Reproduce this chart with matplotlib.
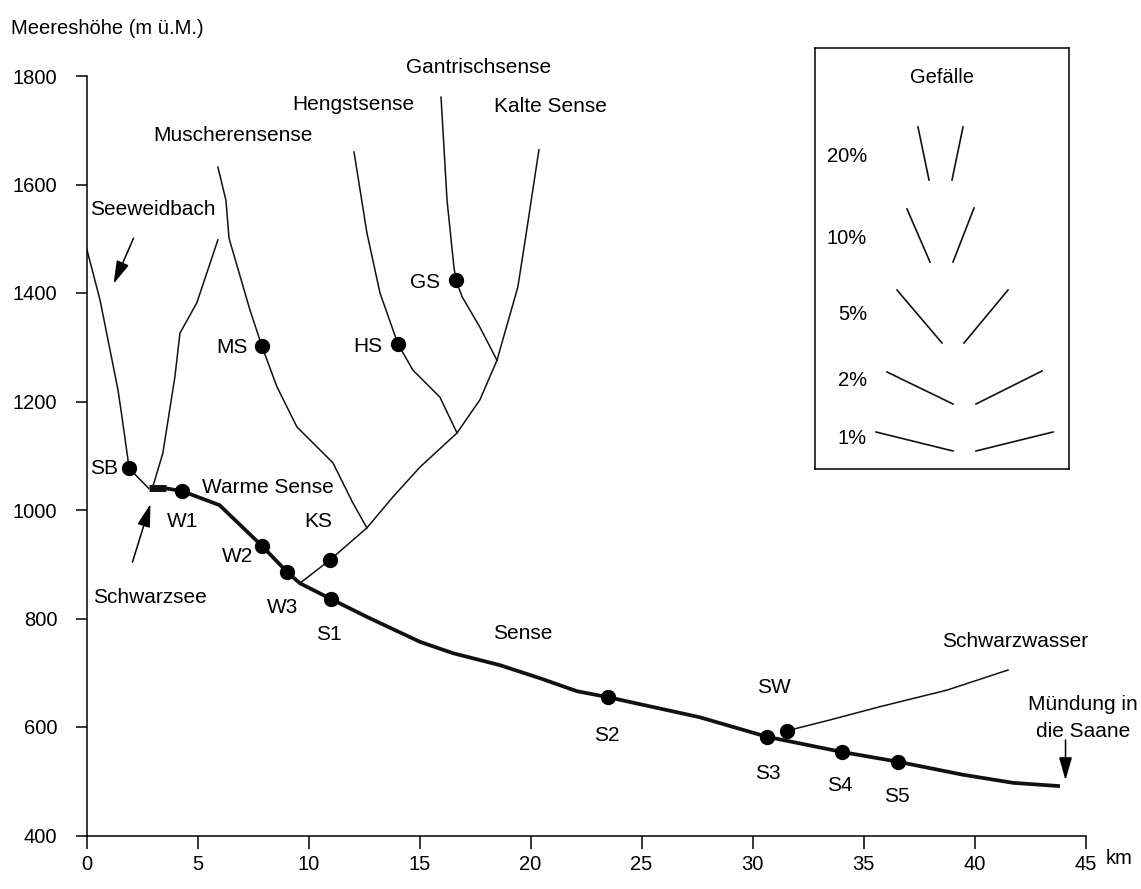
import matplotlib
matplotlib.use("Agg")
import matplotlib.pyplot as plt

plt.rcParams['font.family'] = ['Liberation Sans', 'DejaVu Sans']

# ---------------- data (km from source, m above sea level) ----------------
sense_km = [3.56, 4.30, 5.99, 7.90, 9.03, 9.61, 11.01, 12.63, 15.02, 16.51, 18.62,
            20.42, 22.09, 23.49, 27.62, 30.65, 34.03, 36.55, 39.48, 41.75, 43.85]
sense_m = [1040, 1035, 1009, 934, 886, 865, 836, 803, 757, 736, 714,
           690, 666, 655, 618, 582, 554, 536, 512, 497, 491]

schwarzsee_km = [2.80, 3.56]
schwarzsee_m = [1040, 1040]

seeweid_km = [0.0, 0.61, 1.42, 1.60, 1.87, 1.91, 2.80]
seeweid_m = [1483, 1387, 1221, 1171, 1092, 1077, 1040]

trib_km = [5.92, 4.97, 4.21, 3.98, 3.44, 3.04, 2.95]
trib_m = [1498, 1382, 1326, 1245, 1105, 1050, 1040]

muscheren_km = [5.92, 6.28, 6.42, 7.36, 7.90, 8.58, 9.48, 11.10, 12.00, 12.63]
muscheren_m = [1632, 1571, 1501, 1369, 1302, 1227, 1153, 1087, 1013, 967]

kalte_km = [9.61, 10.97, 12.63, 13.80, 15.02, 16.69, 17.72, 18.49, 19.43, 19.77, 20.38]
kalte_m = [865, 908, 967, 1024, 1079, 1142, 1203, 1276, 1411, 1500, 1664]

hengst_km = [12.05, 12.63, 13.22, 14.03, 14.70, 15.92, 16.69]
hengst_m = [1660, 1511, 1400, 1306, 1258, 1208, 1142]

gantrisch_km = [15.97, 16.24, 16.55, 16.64, 16.92, 17.72, 18.49]
gantrisch_m = [1761, 1571, 1448, 1424, 1393, 1337, 1276]

schwarzwasser_km = [31.55, 33.49, 35.70, 38.76, 41.51]
schwarzwasser_m = [593, 613, 637, 668, 705]

station_names = ["SB", "W1", "W2", "W3", "S1", "S2", "S3", "S4", "S5", "SW", "KS", "MS", "HS", "GS"]
station_km = [1.91, 4.30, 7.90, 9.03, 11.01, 23.49, 30.65, 34.03, 36.55, 31.55, 10.97, 7.90, 14.03, 16.64]
station_m = [1077, 1035, 934, 886, 836, 655, 582, 554, 536, 593, 908, 1302, 1306, 1424]

x_ticks = [0, 5, 10, 15, 20, 25, 30, 35, 40, 45]
y_ticks = [400, 600, 800, 1000, 1200, 1400, 1600, 1800]

# legend (Gefälle) labels
legend_labels = ["20%", "10%", "5%", "2%", "1%"]

# ---------------- figure ----------------
W, H = 1141, 889
fig = plt.figure(figsize=(W / 100, H / 100), dpi=100)
x0, x1 = 86.5, 1085.5
y_top, y_bot = 76, 835.5
ax = fig.add_axes([x0 / W, 1 - y_bot / H, (x1 - x0) / W, (y_bot - y_top) / H])
ax.set_xlim(0, 45)
ax.set_ylim(400, 1800)
for s in ['top', 'right']:
    ax.spines[s].set_visible(False)
for s in ['left', 'bottom']:
    ax.spines[s].set_linewidth(1.1)
ax.set_xticks(x_ticks)
ax.set_yticks(y_ticks)
ax.tick_params(axis='y', direction='out', length=8, width=1.1, pad=13, labelsize=14.5)
ax.tick_params(axis='x', direction='out', length=9, width=1.1, pad=5, labelsize=14.5)

lc = '#111111'
thin = 1.1
ax.plot(seeweid_km, seeweid_m, color=lc, lw=thin)
ax.plot(trib_km, trib_m, color=lc, lw=thin)
ax.plot(muscheren_km, muscheren_m, color=lc, lw=thin)
ax.plot(kalte_km, kalte_m, color=lc, lw=thin)
ax.plot(hengst_km, hengst_m, color=lc, lw=thin)
ax.plot(gantrisch_km, gantrisch_m, color=lc, lw=thin)
ax.plot(schwarzwasser_km, schwarzwasser_m, color=lc, lw=thin)
ax.plot(sense_km, sense_m, color=lc, lw=2.7, solid_capstyle='butt', solid_joinstyle='round')
ax.plot(schwarzsee_km, schwarzsee_m, color=lc, lw=5, solid_capstyle='butt')
ax.plot(station_km, station_m, 'o', color='black', ms=10, zorder=5, linestyle='none')

fs = 15
def t(x, y, s, ha='center'):
    ax.text(x, y, s, fontsize=fs, ha=ha, va='center', clip_on=False)

t(17.64, 1815, "Gantrischsense")
t(12.0, 1748, "Hengstsense")
t(20.92, 1743, "Kalte Sense")
t(6.6, 1691, "Muscherensense")
t(3.0, 1553, "Seeweidbach")
t(7.25, 1299, "MS", ha='right')
t(1.42, 1077, "SB", ha='right')
t(5.2, 1042, "Warme Sense", ha='left')
t(4.35, 978, "W1")
t(10.43, 978, "KS")
t(6.82, 914, "W2")
t(2.86, 838, "Schwarzsee")
t(8.85, 821, "W3")
t(10.92, 770, "S1")
t(19.66, 773, "Sense")
t(23.45, 585, "S2")
t(30.97, 672, "SW")
t(41.82, 757, "Schwarzwasser")
t(30.7, 515, "S3")
t(33.94, 493, "S4")
t(36.51, 471, "S5")
t(44.89, 641, "Mündung in")
t(44.89, 591, "die Saane")
t(15.25, 1420, "GS")
t(12.68, 1302, "HS")

arr = dict(arrowstyle='-|>,head_length=0.7,head_width=0.2', color='black', lw=1.1,
           shrinkA=0, shrinkB=0, mutation_scale=20)
ax.annotate("", xy=(1.22, 1417), xytext=(2.12, 1501), arrowprops=arr)
ax.annotate("", xy=(2.88, 1011), xytext=(2.07, 904), arrowprops=arr)
ax.annotate("", xy=(44.1, 502), xytext=(44.1, 576), arrowprops=arr, annotation_clip=False)

fig.text(11 / W, 1 - 28 / H, "Meereshöhe (m ü.M.)", fontsize=14.5, ha='left', va='center')
fig.text(1106 / W, 1 - 859 / H, "km", fontsize=14.5, ha='left', va='center')

# ---------------- Gefälle legend box ----------------
bx0, bx1, by0, by1 = 815, 1069, 48, 469
lax = fig.add_axes([bx0 / W, 1 - by1 / H, (bx1 - bx0) / W, (by1 - by0) / H])
lax.set_xlim(0, bx1 - bx0)
lax.set_ylim(by1 - by0, 0)
lax.set_xticks([])
lax.set_yticks([])
for s in lax.spines.values():
    s.set_linewidth(1.1)
lax.text(942 - bx0, 78 - by0, "Gefälle", fontsize=14.5, ha='center', va='center')
label_y = [157, 239, 315, 381, 438]
segs = [
    [((918, 127), (929, 180)), ((963, 127), (952, 180))],
    [((907, 209), (930, 262)), ((974, 208), (953, 262))],
    [((897, 290), (942, 343)), ((1008, 290), (964, 343))],
    [((887, 372), (953, 404)), ((1042, 371), (976, 404))],
    [((876, 432), (953, 451)), ((1053, 432), (976, 451))],
]
for lab, ly, pair in zip(legend_labels, label_y, segs):
    lax.text(867 - bx0, ly - by0, lab, fontsize=14.5, ha='right', va='center')
    for (a, b) in pair:
        lax.plot([a[0] - bx0, b[0] - bx0], [a[1] - by0, b[1] - by0], color=lc, lw=1.2)

fig.savefig("out.png", dpi=100)
